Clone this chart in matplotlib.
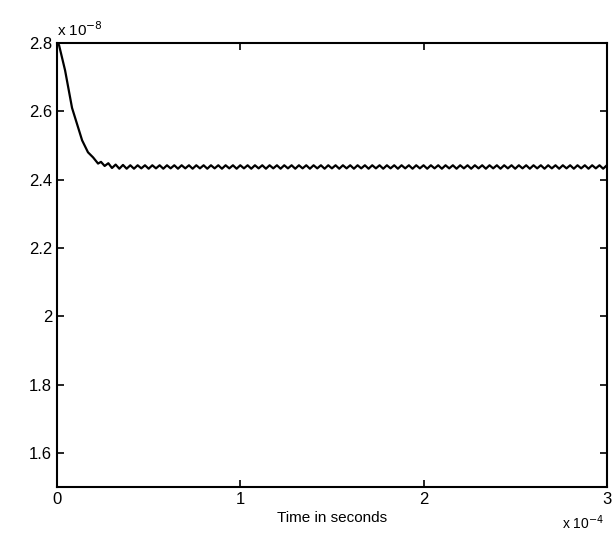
import numpy as np
from matplotlib import pyplot as plt

plt.rcParams['font.family'] = ['Liberation Sans', 'DejaVu Sans']

# Initial decay (time in 1e-4 s, value in 1e-8)
decay_t = [0.0, 0.011, 0.044, 0.082, 0.115, 0.137, 0.169, 0.197, 0.224]
decay_v = [2.800, 2.794, 2.720, 2.610, 2.553, 2.515, 2.480, 2.465, 2.447]

# Ripple extremes after settling, one value every half period (~0.02e-4 s)
ripple_t0 = 0.24
ripple_dt = 0.02
ripple_v = [
    2.452, 2.440, 2.448, 2.434, 2.444, 2.432, 2.443, 2.432, 2.442, 2.432,
    2.442, 2.433, 2.442, 2.432, 2.442, 2.433, 2.442, 2.432, 2.442, 2.433,
    2.442, 2.432, 2.442, 2.433, 2.442, 2.432, 2.442, 2.433, 2.442, 2.432,
    2.442, 2.433, 2.442, 2.432, 2.442, 2.433, 2.442, 2.432, 2.442, 2.433,
    2.442, 2.432, 2.442, 2.433, 2.442, 2.432, 2.442, 2.433, 2.442, 2.432,
    2.442, 2.433, 2.442, 2.432, 2.442, 2.433, 2.442, 2.432, 2.442, 2.433,
    2.442, 2.432, 2.442, 2.433, 2.442, 2.432, 2.442, 2.433, 2.442, 2.432,
    2.442, 2.433, 2.442, 2.432, 2.442, 2.433, 2.442, 2.432, 2.442, 2.433,
    2.442, 2.432, 2.442, 2.433, 2.442, 2.432, 2.442, 2.433, 2.442, 2.432,
    2.442, 2.433, 2.442, 2.432, 2.442, 2.433, 2.442, 2.432, 2.442, 2.433,
    2.442, 2.432, 2.442, 2.433, 2.442, 2.432, 2.442, 2.433, 2.442, 2.432,
    2.442, 2.433, 2.442, 2.432, 2.442, 2.433, 2.442, 2.432, 2.442, 2.433,
    2.442, 2.432, 2.442, 2.433, 2.442, 2.432, 2.442, 2.433, 2.442, 2.432,
    2.442, 2.433, 2.442, 2.432, 2.442, 2.433, 2.442, 2.432, 2.442,
]

x_ticks = [0, 1, 2, 3]
x_labels = ['0', '1', '2', '3']
y_ticks = [1.6, 1.8, 2.0, 2.2, 2.4, 2.6, 2.8]
y_labels = ['1.6', '1.8', '2', '2.2', '2.4', '2.6', '2.8']

ripple_times = ripple_t0 + ripple_dt * np.arange(len(ripple_v))
t = np.concatenate([decay_t, ripple_times])
v = np.concatenate([decay_v, ripple_v])

fig = plt.figure(figsize=(6.15, 5.41), dpi=100)
ax = fig.add_axes([0.0927, 0.0998, 0.894, 0.8207])
ax.plot(t, v, color='black', linewidth=1.6)

ax.set_xlim(0, 3)
ax.set_ylim(1.5, 2.8)
ax.set_xticks(x_ticks)
ax.set_xticklabels(x_labels)
ax.set_yticks(y_ticks)
ax.set_yticklabels(y_labels)
ax.tick_params(direction='in', top=True, right=True, length=5, width=1.2,
               labelsize=12, colors='black')
for s in ax.spines.values():
    s.set_linewidth(1.5)

ax.set_xlabel('Time in seconds', fontsize=11, labelpad=3)
ax.text(0.0, 1.008, r'x 10$^{-8}$', transform=ax.transAxes, fontsize=11,
        ha='left', va='bottom')
ax.text(0.995, -0.095, r'x 10$^{-4}$', transform=ax.transAxes, fontsize=10,
        ha='right', va='baseline')

plt.savefig('out.png', dpi=100)
